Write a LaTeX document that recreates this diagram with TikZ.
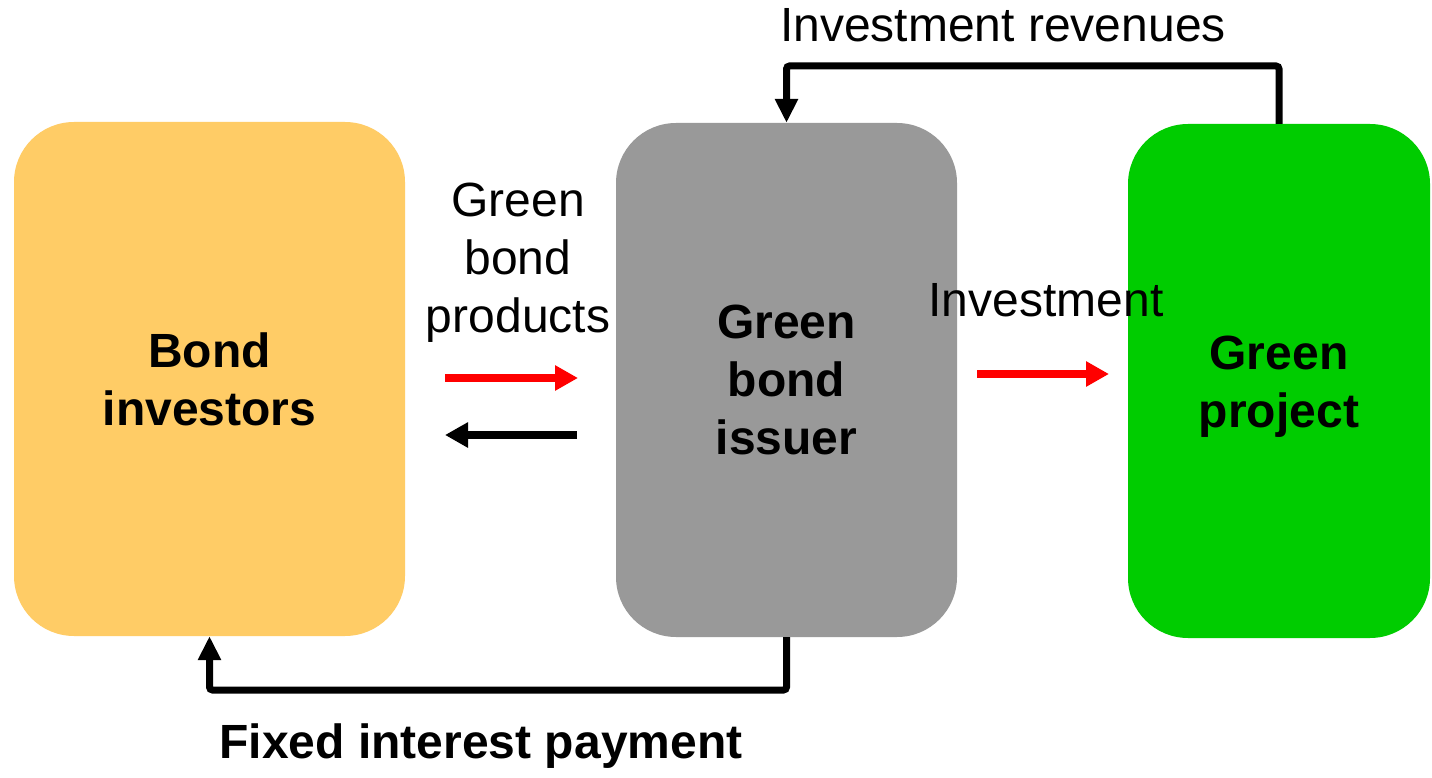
\documentclass[tikz,border=0pt]{standalone}
\usepackage{fontspec}
\setmainfont{Liberation Sans}
\usetikzlibrary{arrows.meta}
\definecolor{gold}{HTML}{FFCC66}
\definecolor{issuergray}{HTML}{999999}
\definecolor{projgreen}{HTML}{00CC00}
\definecolor{flowred}{HTML}{FF0000}
\begin{document}
\begin{tikzpicture}[x=1pt,y=-1pt,
  box/.style={rectangle, rounded corners=60pt, draw=none, inner sep=0pt, align=center,
    font=\fontsize{48}{58}\selectfont\bfseries},
  lbl/.style={inner sep=0pt, align=center, font=\fontsize{48}{58}\selectfont},
  flow/.style={line width=8pt, -{Triangle[width=24pt,length=23pt]}},
  loop/.style={line width=7pt, rounded corners=3pt, -{Triangle[width=22pt,length=24pt]}}]
\useasboundingbox (0,0) rectangle (1432,778);
\fill[white] (0,0) rectangle (1432,778);

% the three parties
\node[box, fill=gold, minimum width=391pt, minimum height=514pt] (inv) at (209.5,379) {Bond\\investors};
\node[box, fill=issuergray, minimum width=341pt, minimum height=514pt] (iss) at (786.5,380) {Green\\bond\\issuer};
\node[box, fill=projgreen, minimum width=302pt, minimum height=514pt] (proj) at (1279,381) {};
\node[box] (projtext) at (1279,387) {Green\\project};

% labels
\node[lbl] (lprod) at (518,263) {Green\\bond\\products};
\node[lbl] (linv) at (1046,300) {Investment};
\node[lbl] (lrev) at (1003,25) {Investment revenues};
\node[lbl, font=\fontsize{48}{58}\selectfont\bfseries] (lfix) at (481,746) {Fixed interest payment};

% short flows between the parties
\coordinate (a1s) at (445,378); \coordinate (a1e) at (578,378);
\coordinate (a2s) at (577,435); \coordinate (a2e) at (445,435);
\coordinate (a3s) at (977,374); \coordinate (a3e) at (1109,374);
\draw[flow, flowred] (a1s) -- (a1e);
\draw[flow, black] (a2s) -- (a2e);
\draw[flow, flowred] (a3s) -- (a3e);

% return loops
\coordinate (topy) at (0,66);
\coordinate (boty) at (0,690);
\draw[loop] (proj.north) -- (proj.north |- topy) -| (iss.north);
\draw[loop] (iss.south) -- (iss.south |- boty) -| (inv.south);
\end{tikzpicture}
\end{document}
